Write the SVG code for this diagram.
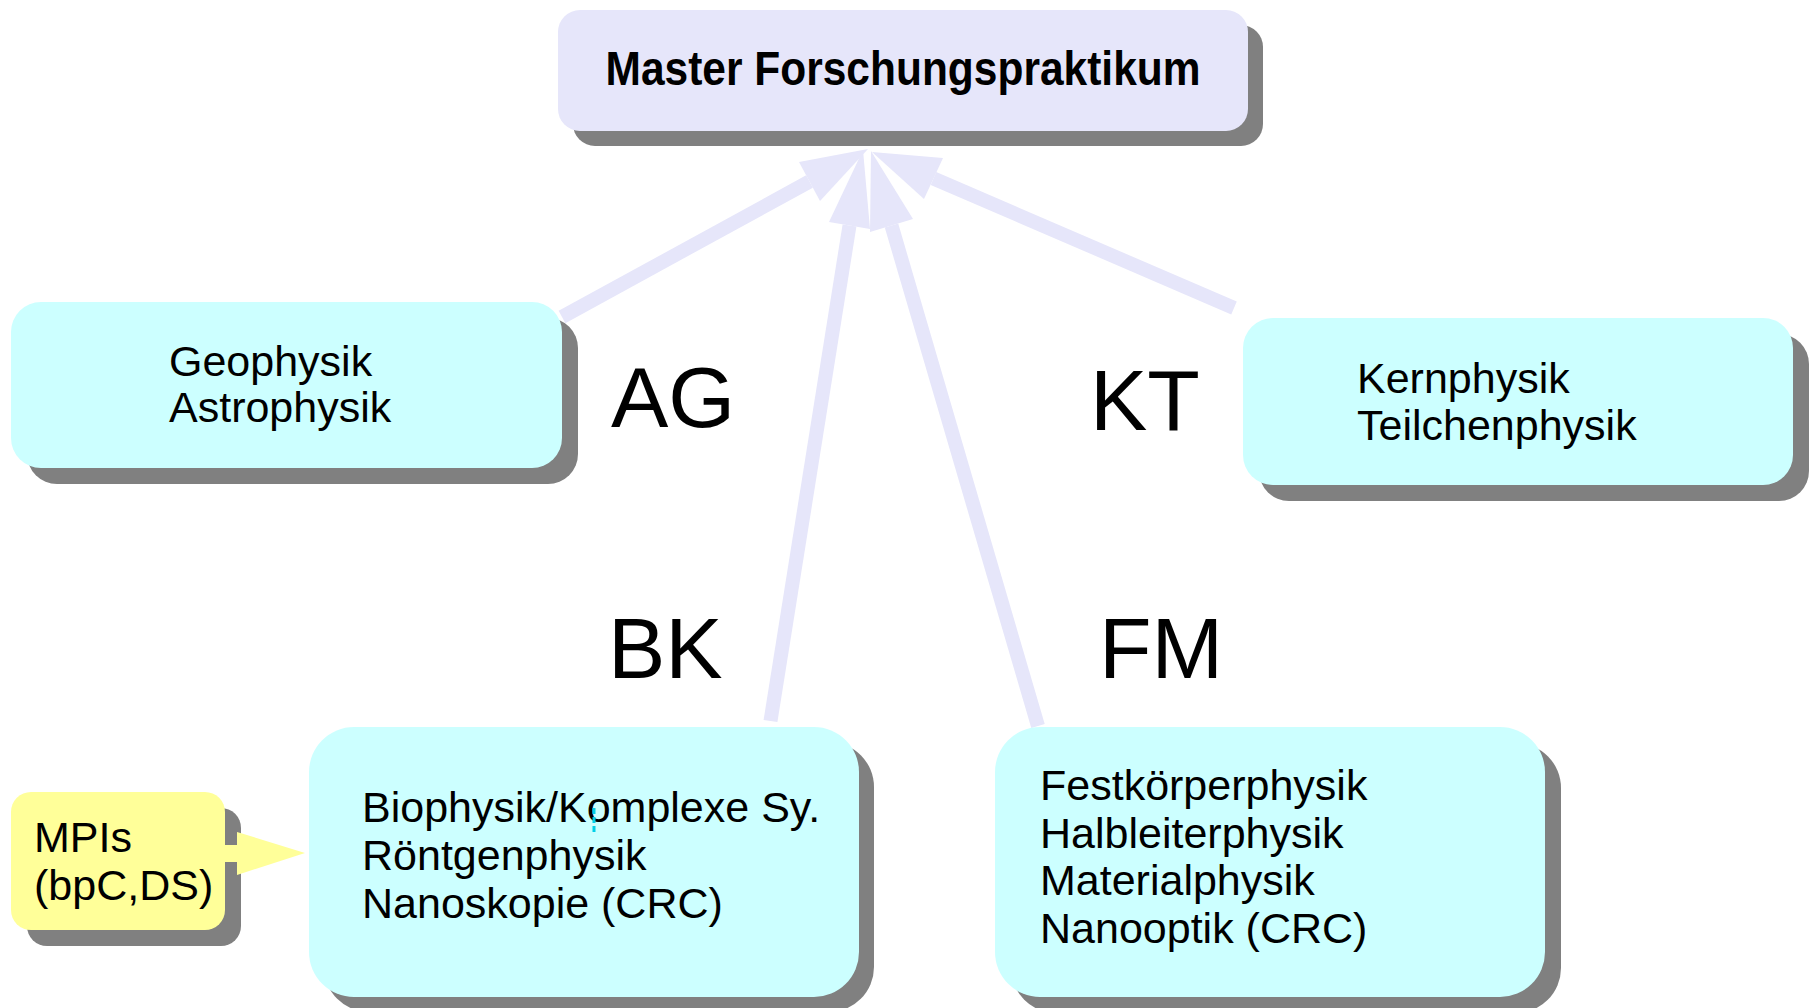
<svg xmlns="http://www.w3.org/2000/svg" width="1811" height="1008" viewBox="0 0 1811 1008">
<style>
.shadow{fill:#808080}
.lav{fill:#e6e6fa}
.cyan{fill:#ccffff}
.yellow{fill:#ffff99}
.shaft{stroke:#e6e6fa;stroke-width:14;stroke-linecap:butt;fill:none}
.head{fill:#e6e6fa}
.t{font-family:"Liberation Sans",Arial,sans-serif;font-size:43px;fill:#000}
.lbl{font-family:"Liberation Sans",Arial,sans-serif;font-size:86px;fill:#000}
.title{font-family:"Liberation Sans",Arial,sans-serif;font-size:48px;font-weight:bold;fill:#000}
</style>
<rect width="1811" height="1008" fill="#ffffff"/>

<g id="connectors">
  <line class="shaft" x1="562" y1="317" x2="809.5" y2="181.5"/>
  <polygon class="head" points="868,149 799,162 820,201"/>
  <line class="shaft" x1="770.5" y1="721" x2="849.5" y2="225.5"/>
  <polygon class="head" points="863,150 829,222 870,229"/>
  <line class="shaft" x1="1038" y1="726" x2="891.5" y2="225.5"/>
  <polygon class="head" points="871,151 870,232 913,219"/>
  <line class="shaft" x1="1234" y1="308" x2="933.5" y2="178.5"/>
  <polygon class="head" points="872,152 943,158 924,199"/>
</g>

<g id="node-master">
  <rect class="shadow" x="573" y="25" width="690" height="121" rx="22"/>
  <rect class="lav" x="558" y="10" width="690" height="121" rx="22"/>
  <text class="title" x="903" y="85" text-anchor="middle" textLength="595" lengthAdjust="spacingAndGlyphs">Master Forschungspraktikum</text>
</g>

<g id="node-ag">
  <rect class="shadow" x="27" y="318" width="551" height="166" rx="30"/>
  <rect class="cyan" x="11" y="302" width="551" height="166" rx="30"/>
  <text class="t" x="169" y="376">Geophysik</text>
  <text class="t" x="169" y="422">Astrophysik</text>
</g>

<g id="node-kt">
  <rect class="shadow" x="1259" y="334" width="550" height="167" rx="30"/>
  <rect class="cyan" x="1243" y="318" width="550" height="167" rx="30"/>
  <text class="t" x="1357" y="393">Kernphysik</text>
  <text class="t" x="1357" y="440">Teilchenphysik</text>
</g>

<g id="node-bk">
  <rect class="shadow" x="324" y="742" width="550" height="270" rx="45"/>
  <rect class="cyan" x="309" y="727" width="550" height="270" rx="45"/>
  <text class="t" x="362" y="822">Biophysik/Komplexe Sy.</text>
  <text class="t" x="362" y="870">Röntgenphysik</text>
  <text class="t" x="362" y="918">Nanoskopie (CRC)</text>
  <line x1="594" y1="808" x2="594" y2="835" stroke="#00d0e8" stroke-width="3" stroke-dasharray="6,3"/>
</g>

<g id="node-fm">
  <rect class="shadow" x="1011" y="743" width="550" height="270" rx="45"/>
  <rect class="cyan" x="995" y="727" width="550" height="270" rx="45"/>
  <text class="t" x="1040" y="800">Festkörperphysik</text>
  <text class="t" x="1040" y="847.5">Halbleiterphysik</text>
  <text class="t" x="1040" y="895">Materialphysik</text>
  <text class="t" x="1040" y="942.5">Nanooptik (CRC)</text>
</g>

<g id="node-mpis">
  <rect class="shadow" x="27" y="808" width="214" height="138" rx="20"/>
  <rect class="yellow" x="11" y="792" width="214" height="138" rx="20"/>
  <rect class="yellow" x="224" y="845" width="14" height="17"/>
  <polygon class="yellow" points="237,832 305,853 237,875"/>
  <text class="t" x="34" y="852">MPIs</text>
  <text class="t" x="34" y="900">(bpC,DS)</text>
</g>

<g id="labels">
  <text class="lbl" x="611" y="427">AG</text>
  <text class="lbl" x="1090" y="430">KT</text>
  <text class="lbl" x="608" y="678">BK</text>
  <text class="lbl" x="1099" y="678">FM</text>
</g>
</svg>
